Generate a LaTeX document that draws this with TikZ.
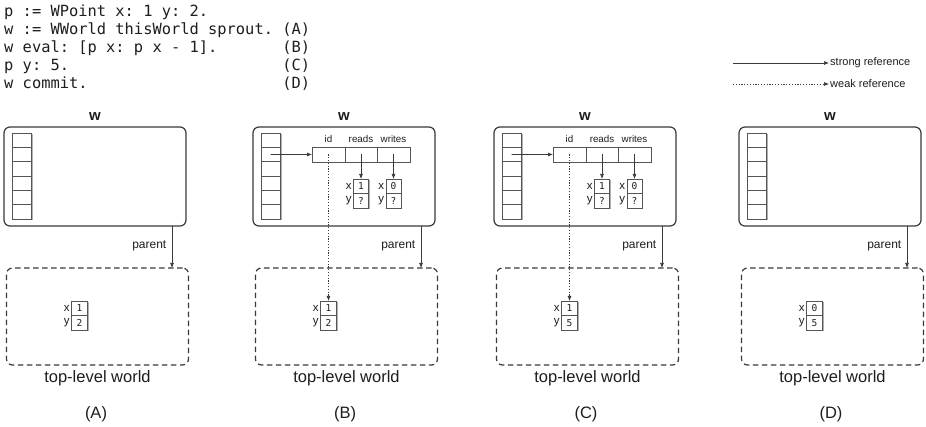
\documentclass[tikz,border=0pt]{standalone}
\usepackage{fontspec}
\setmainfont{Liberation Sans}
\setmonofont{DejaVu Sans Mono}
\usetikzlibrary{arrows.meta,positioning,calc}

\definecolor{linegray}{HTML}{3A3A3A}
\definecolor{cellgray}{HTML}{555555}
\definecolor{shadowgray}{HTML}{B0B0B0}
\definecolor{textgray}{HTML}{1E1E1E}

\tikzset{
  worldbox/.style={draw=linegray, line width=1.2pt, rounded corners=6pt, inner sep=0pt, outer sep=0pt},
  topbox/.style={draw=linegray, line width=1.2pt, rounded corners=6pt, dash pattern=on 5.5pt off 3.5pt, inner sep=0pt, outer sep=0pt},
  stackcell/.style={draw=cellgray, fill=white, line width=0.7pt, minimum width=19pt, minimum height=14.33pt, inner sep=0pt, outer sep=0pt},
  reccell/.style={draw=cellgray, fill=white, line width=0.7pt, minimum height=15pt, inner sep=0pt, outer sep=0pt},
  memcell/.style={draw=cellgray, fill=white, line width=0.7pt, minimum width=15pt, minimum height=14.5pt, inner sep=0pt, outer sep=0pt, text=textgray, font=\ttfamily\fontsize{9.5}{9.5}\selectfont},
  strongref/.style={-{Latex[length=5pt,width=4pt]}, line width=0.65pt, draw=linegray},
  weakref/.style={-{Latex[length=5pt,width=4pt]}, line width=0.65pt, draw=linegray, dash pattern=on 1.2pt off 1.6pt},
  wlabel/.style={text=textgray, font=\bfseries\fontsize{15}{15}\selectfont, inner sep=0pt},
  smalllbl/.style={text=textgray, font=\fontsize{11}{11}\selectfont, inner sep=1.5pt},
  parentlbl/.style={text=textgray, font=\fontsize{12}{12}\selectfont, inner sep=1.5pt},
  fieldlbl/.style={text=textgray, font=\fontsize{9.8}{9.8}\selectfont, inner sep=0pt},
  xylbl/.style={text=textgray, font=\fontsize{11.5}{11.5}\selectfont, inner sep=1.6pt, anchor=east},
  biglbl/.style={text=textgray, font=\fontsize{16.5}{16.5}\selectfont, inner sep=0pt},
  codeline/.style={text=textgray, font=\ttfamily\fontsize{15.4}{15.4}\selectfont, inner sep=0pt, anchor=base west},
}

% #1 x offset, #2 name prefix, #3 panel label, #4 top x value, #5 top y value
\newcommand{\worldpanel}[5]{%
\begin{scope}[shift={(#1,0)}, name prefix=#2-]
  \node[worldbox, minimum width=182pt, minimum height=99pt, anchor=north west] (w) at (0,127) {};
  \node[wlabel] (wl) at (91,117) {w};
  \fill[shadowgray] (9.5,134.5) rectangle (29,220.5);
  \foreach \i in {1,...,6} {
    \node[stackcell] (s\i) at (17.5,{133+14.33*(\i-0.5)}) {};
  }
  \node[topbox, minimum width=182pt, minimum height=97pt, anchor=north west] (t) at (2.5,268) {};
  \coordinate (pa) at ([xshift=-14pt]w.south east);
  \draw[strongref] (pa) -- (pa |- t.north);
  \node[parentlbl, anchor=east] (pl) at (164,246) {parent};
  \fill[shadowgray] (68.5,302.5) rectangle (84.5,331.5);
  \node[memcell, minimum width=16pt] (tx) at (75.5,308.25) {#4};
  \node[memcell, minimum width=16pt] (ty) at (75.5,322.75) {#5};
  \node[xylbl] (txl) at (tx.west) {x};
  \node[xylbl] (tyl) at (ty.west) {y};
  \node[biglbl] (tl) at (93.5,378) {top-level world};
  \node[biglbl] (lab) at (92,414) {#3};
\end{scope}}

% #1 x offset, #2 name prefix
\newcommand{\sproutparts}[2]{%
\begin{scope}[shift={(#1,0)}, name prefix=#2-]
  \fill[shadowgray] (60,148.2) rectangle (158,163);
  \node[reccell, minimum width=33pt, anchor=north west] (rid) at (59,147) {};
  \node[reccell, minimum width=32pt, anchor=west] (rrd) at (rid.east) {};
  \node[reccell, minimum width=33pt, anchor=west] (rwr) at (rrd.east) {};
  \node[fieldlbl, anchor=base] (lid) at (75.5,142.5) {id};
  \node[fieldlbl, anchor=base] (lrd) at (108,142.5) {reads};
  \node[fieldlbl, anchor=base] (lwr) at (140.5,142.5) {writes};
  \fill[shadowgray] (101.5,180.2) rectangle (116.5,209.5);
  \fill[shadowgray] (134,180.2) rectangle (149,209.5);
  \node[memcell] (rx) at (108,186.25) {1};
  \node[memcell] (ry) at (108,200.75) {?};
  \node[memcell] (wx) at (140.5,186.25) {0};
  \node[memcell] (wy) at (140.5,200.75) {?};
  \node[xylbl] (rxl) at (rx.west) {x};
  \node[xylbl] (ryl) at (ry.west) {y};
  \node[xylbl] (wxl) at (wx.west) {x};
  \node[xylbl] (wyl) at (wy.west) {y};
  \draw[strongref] (s2.center) -- (rid.west);
  \draw[strongref] (rrd.center) -- (rx.north);
  \draw[strongref] (rwr.center) -- (wx.north);
  \draw[weakref] (rid.center) -- (tx.north);
\end{scope}}

\begin{document}
\begin{tikzpicture}[x=1pt, y=-1pt]
  \useasboundingbox[fill=white] (0,0) rectangle (926,427);

  % code
  \node[codeline] (c1) at (4,16.5) {p := WPoint x: 1 y: 2.};
  \node[codeline] (c2) at (4,34.6) {w := WWorld thisWorld sprout.~(A)};
  \node[codeline] (c3) at (4,52.7) {w eval: [p x: p x - 1].~~~~~~~(B)};
  \node[codeline] (c4) at (4,70.8) {p y: 5.~~~~~~~~~~~~~~~~~~~~~~~(C)};
  \node[codeline] (c5) at (4,88.9) {w commit.~~~~~~~~~~~~~~~~~~~~~(D)};

  % legend
  \node[smalllbl, anchor=west, inner sep=1pt] (lg1) at (829,63) {strong reference};
  \node[smalllbl, anchor=west, inner sep=1pt] (lg2) at (829,84) {weak reference};
  \coordinate (lgs1) at (733,63);
  \coordinate (lgs2) at (733,84);
  \draw[strongref] (lgs1) -- (lg1.west);
  \draw[weakref] (lgs2) -- (lg2.west);

  % panels
  \worldpanel{4}{A}{(A)}{1}{2}
  \worldpanel{253}{B}{(B)}{1}{2}
  \sproutparts{253}{B}
  \worldpanel{494}{C}{(C)}{1}{5}
  \sproutparts{494}{C}
  \worldpanel{739}{D}{(D)}{0}{5}
\end{tikzpicture}
\end{document}
